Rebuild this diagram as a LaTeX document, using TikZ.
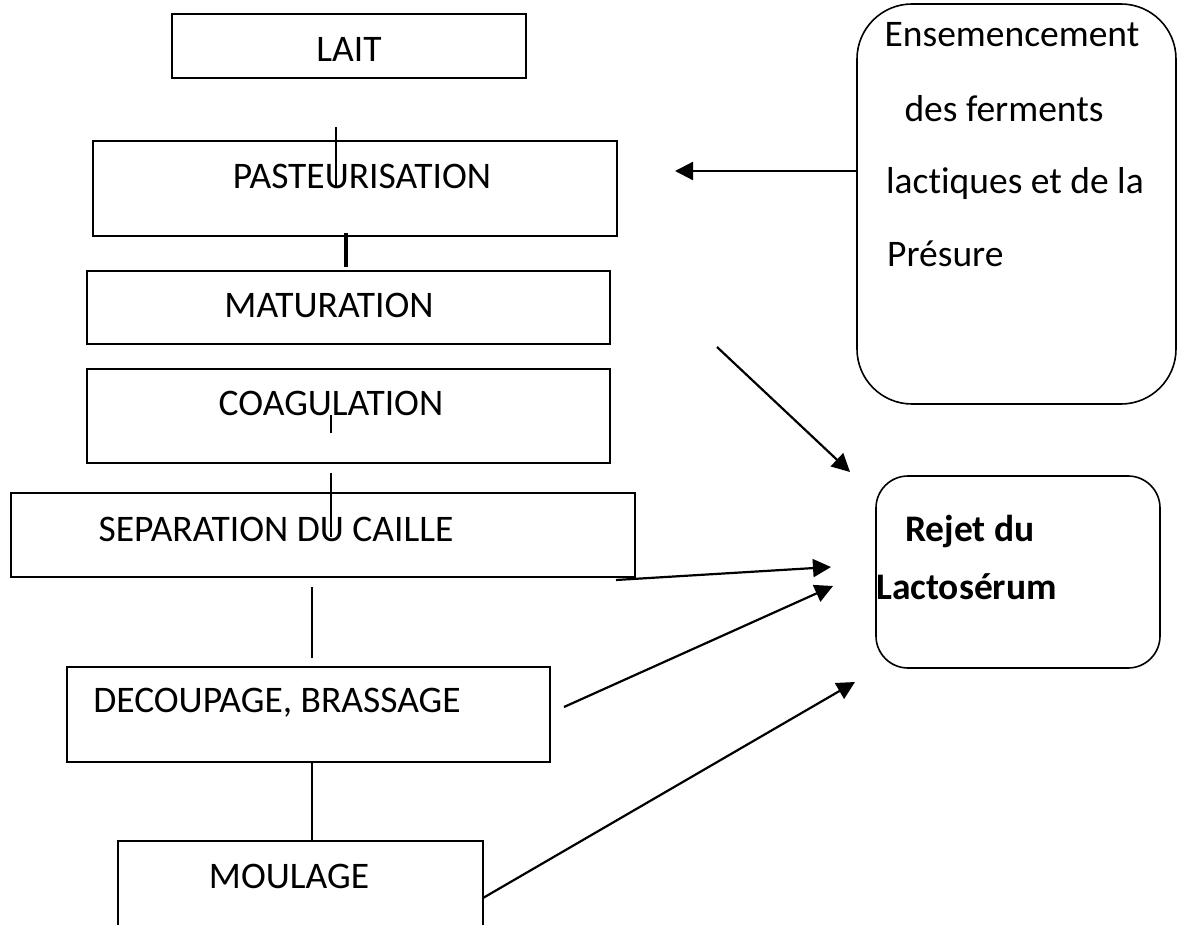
\documentclass[tikz,border=0pt]{standalone}
\usepackage{fontspec}
\setmainfont[Ligatures=NoCommon]{Carlito}
\usetikzlibrary{arrows.meta}
\tikzset{
  box/.style={draw=black, line width=2pt, inner sep=0pt},
  rbox/.style={draw=black, line width=1.6pt, rounded corners=#1},
  lbl/.style={font=\fontsize{37.5}{44}\selectfont, inner sep=0pt, anchor=base},
  thin/.style={draw=black, line width=1.4pt},
  flow/.style={draw=black, line width=2.2pt, -{Triangle[length=18pt,width=18pt]}}
}
\begin{document}
\begin{tikzpicture}[x=1pt,y=-1pt]
\useasboundingbox (0,0) rectangle (1179,925);
\clip (0,0) rectangle (1179,925);
\fill[white] (0,0) rectangle (1179,925);
% process boxes
\draw[box] (172,14) rectangle (526,78);
\node[lbl] (lait) at (349,62) {LAIT};
\draw[box] (93,141) rectangle (617,236);
\node[lbl] (past) at (362,189) {PASTEURISATION};
\draw[box] (87,271) rectangle (610,344);
\node[lbl] (matu) at (329,318) {MATURATION};
\draw[box] (87,369) rectangle (610,463);
\node[lbl] (coag) at (331,416) {COAGULATION};
\draw[box] (11,493) rectangle (635,577);
\node[lbl] (sep) at (276,541) {SEPARATION DU CAILLE};
\draw[box] (67,667) rectangle (550,762);
\node[lbl] (dec) at (277,712) {DECOUPAGE, BRASSAGE};
\draw[box] (118,841) rectangle (483,960);
\node[lbl] (moul) at (289,888) {MOULAGE};
% side boxes
\draw[rbox=55pt] (857,4) rectangle (1176,404);
\node[lbl, anchor=base] (ens1) at (1012,47) {Ensemencement};
\node[lbl, anchor=base] (ens2) at (1004,122) {des ferments};
\node[lbl, anchor=base] (ens3) at (1015,194) {lactiques et de la};
\node[lbl, anchor=base west] (ens4) at (887,267) {Présure};
\draw[rbox=32pt] (876,476) rectangle (1160,668);
\node[lbl, anchor=base west, font=\fontsize{37.5}{44}\selectfont\bfseries] (rej1) at (905,541) {Rejet du};
\node[lbl, anchor=base west, font=\fontsize{37.5}{44}\selectfont\bfseries] (rej2) at (876,599) {Lactosérum};
% vertical connectors
\coordinate (v1a) at (336,127); \coordinate (v1b) at (336,188);
\draw[thin] (v1a) -- (v1b);
\coordinate (v2a) at (346,233); \coordinate (v2b) at (346,267);
\draw[black, line width=4pt] (v2a) -- (v2b);
\coordinate (v3a) at (331,415); \coordinate (v3b) at (331,433);
\draw[thin] (v3a) -- (v3b);
\coordinate (v4a) at (331,473); \coordinate (v4b) at (331,537);
\draw[thin] (v4a) -- (v4b);
\coordinate (v5a) at (312,587); \coordinate (v5b) at (312,658);
\draw[thin] (v5a) -- (v5b);
\coordinate (v6a) at (312,762); \coordinate (v6b) at (312,841);
\draw[thin] (v6a) -- (v6b);
% arrows
\coordinate (e0) at (857,171); \coordinate (e1) at (675,171);
\draw[flow] (e0) -- (e1);
\coordinate (a1s) at (717,347); \coordinate (a1e) at (850,472);
\draw[flow] (a1s) -- (a1e);
\coordinate (a2s) at (616,580); \coordinate (a2e) at (831,567);
\draw[flow] (a2s) -- (a2e);
\coordinate (a3s) at (564,707); \coordinate (a3e) at (833,586);
\draw[flow] (a3s) -- (a3e);
\coordinate (a4s) at (483,898); \coordinate (a4e) at (855,682);
\draw[flow] (a4s) -- (a4e);
\end{tikzpicture}
\end{document}
